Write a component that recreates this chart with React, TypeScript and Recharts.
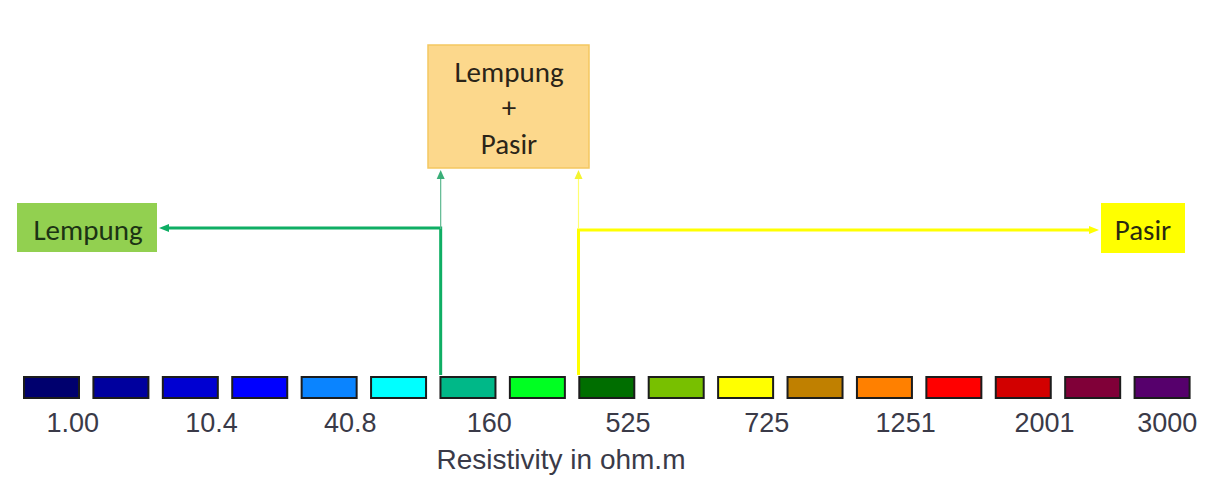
import { Bar, BarChart, Cell, XAxis, YAxis } from "recharts";

// resistivity colour bins (one swatch each)
const bins = ["b1", "b2", "b3", "b4", "b5", "b6", "b7", "b8", "b9", "b10", "b11", "b12", "b13", "b14", "b15", "b16", "b17"];
const swatchValues = [1, 1, 1, 1, 1, 1, 1, 1, 1, 1, 1, 1, 1, 1, 1, 1, 1];
const swatchColors = [
    "#00006e", "#00009e", "#0000d2", "#0000ff", "#0a84ff", "#00ffff", "#00b888", "#00ff22", "#006e00",
    "#78c000", "#ffff00", "#c08000", "#ff8000", "#ff0000", "#d20000", "#800038", "#56006c",
];
const tickLabels = ["1.00", "", "10.4", "", "40.8", "", "160", "", "525", "", "725", "", "1251", "", "2001", "", "3000"];
const axisTitle = "Resistivity in ohm.m";

const W = 1208;
const H = 484;
const M = { top: 377, right: 11, bottom: 0, left: 17 };
const BAR = 55;
const band = (W - M.left - M.right) / bins.length;
const barLeft = (i: number) => M.left + i * band + (band - BAR) / 2;

const data = bins.map((b, i) => ({ bin: b, value: swatchValues[i] }));

const boxFont = "Carlito, Calibri, Lato, 'Noto Sans', sans-serif";
const BOX_FS = 29;
const GREEN = "#0fae64";
const YELLOW = "#ffff00";

function Tick(props: any) {
    const { x, y, payload } = props;
    const label = tickLabels[payload.index];
    if (!label) return null;
    const last = payload.index === tickLabels.length - 1;
    return (
        <text x={x + (last ? 5 : 21)} y={y + 32} textAnchor="middle" fontSize={27}
            fontFamily="'Liberation Sans', Arial, sans-serif" fill="#3a3a48">
            {label}
        </text>
    );
}

export default function App() {
    const gx = barLeft(6);
    const yx = barLeft(8) - 1;
    const hy = 229;

    return (
        <div style={{ position: "absolute", left: 0, top: 0, width: W, height: H, background: "#fff" }}>
            <BarChart width={W} height={H} data={data} margin={M}>
                <YAxis hide domain={[0, 1]} />
                <XAxis dataKey="bin" height={86} axisLine={false} tickLine={false} tickSize={0}
                    interval={0} tick={<Tick />}
                    label={() => (
                        <text x={561} y={469} textAnchor="middle" fontSize={28}
                            fontFamily="'Liberation Sans', Arial, sans-serif" fill="#3a3a48">
                            {axisTitle}
                        </text>
                    )} />
                <Bar dataKey="value" barSize={BAR} isAnimationActive={false}>
                    {data.map((d, i) => (
                        <Cell key={d.bin} fill={swatchColors[i]} stroke="#1c1c1c" strokeWidth={2} />
                    ))}
                </Bar>
            </BarChart>

            <svg width={W} height={H} style={{ position: "absolute", left: 0, top: 0, pointerEvents: "none" }}>
                {/* interpretation boxes */}
                <rect x={428} y={45} width={161} height={123} fill="#fcd88c" stroke="#f4c760" strokeWidth={1.5} />
                <text x={509} y={82} textAnchor="middle" fontSize={BOX_FS} fontFamily={boxFont} fill="#2a2418">Lempung</text>
                <text x={509} y={117} textAnchor="middle" fontSize={BOX_FS} fontFamily={boxFont} fill="#2a2418">+</text>
                <text x={509} y={154} textAnchor="middle" fontSize={BOX_FS} fontFamily={boxFont} fill="#2a2418">Pasir</text>

                <rect x={17} y={203} width={140} height={49} fill="#92d050" />
                <text x={88} y={240} textAnchor="middle" fontSize={BOX_FS} fontFamily={boxFont} fill="#1c3314">Lempung</text>

                <rect x={1101} y={203} width={84} height={50} fill="#ffff00" />
                <text x={1143} y={240} textAnchor="middle" fontSize={BOX_FS} fontFamily={boxFont} fill="#2a2a10">Pasir</text>

                {/* green: clay */}
                <polyline points={`${gx},375 ${gx},${hy - 1} 166,${hy - 1}`} fill="none" stroke={GREEN} strokeWidth={3} />
                <polygon points={`159,${hy - 1} 169,${hy - 5} 169,${hy + 3}`} fill={GREEN} />
                <line x1={gx} y1={hy} x2={gx} y2={178} stroke="#5cb890" strokeWidth={1.2} />
                <polygon points={`${gx},170 ${gx - 4},179 ${gx + 4},179`} fill="#3aae78" />

                {/* yellow: sand */}
                <polyline points={`${yx},375 ${yx},${hy + 1} 1092,${hy + 1}`} fill="none" stroke={YELLOW} strokeWidth={3} />
                <polygon points={`1099,${hy + 1} 1089,${hy - 3} 1089,${hy + 5}`} fill={YELLOW} />
                <line x1={yx} y1={hy} x2={yx} y2={178} stroke="#ffff70" strokeWidth={1.2} />
                <polygon points={`${yx},170 ${yx - 4},179 ${yx + 4},179`} fill="#f4f430" />
            </svg>
        </div>
    );
}
